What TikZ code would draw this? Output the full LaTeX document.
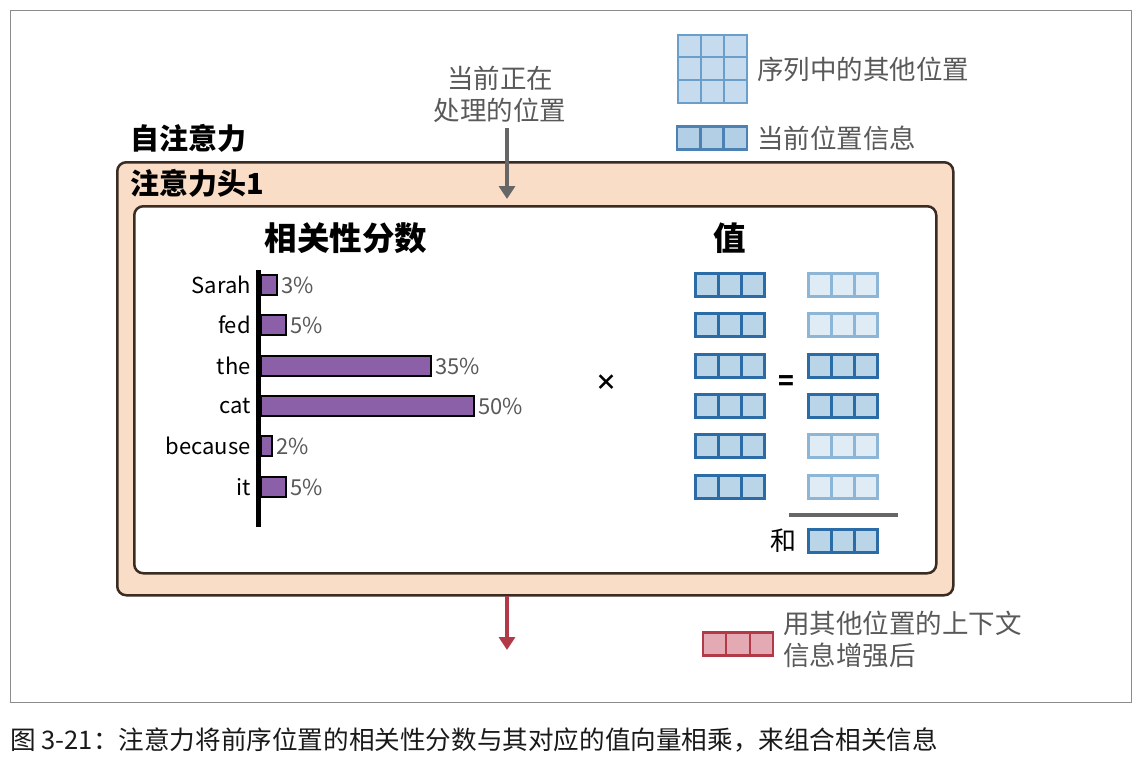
\documentclass[tikz,border=0pt]{standalone}
\usepackage{fontspec}
\setmainfont{Noto Sans CJK SC}
\usetikzlibrary{arrows.meta}
\definecolor{peach}{HTML}{F9DDC6}
\definecolor{peachline}{HTML}{3B2B22}
\definecolor{barfill}{HTML}{8B60A8}
\definecolor{dblue}{HTML}{2B6CA6}
\definecolor{lblue}{HTML}{BAD4E8}
\definecolor{fblue}{HTML}{8CB5D6}
\definecolor{ffill}{HTML}{DFEBF5}
\definecolor{gblue}{HTML}{6A9FCC}
\definecolor{gfill}{HTML}{C6DBED}
\definecolor{rline}{HTML}{B23A48}
\definecolor{rfill}{HTML}{E3AAB3}
\definecolor{txtgray}{HTML}{595959}
\definecolor{arrgray}{HTML}{666666}
\newcommand\fs[1]{\fontsize{#1}{#1}\selectfont}
% vector of three cells: name, x center, y center, style
\newcommand\threecell[4]{%
  \node[cellbox,#4,anchor=center] (#1a) at (#2-23.3,#3) {};
  \node[cellbox,#4,anchor=center] (#1b) at (#2,#3) {};
  \node[cellbox,#4,anchor=center] (#1c) at (#2+23.3,#3) {};
}
\begin{document}
\begin{tikzpicture}[x=1pt,y=-1pt,
  cellbox/.style={rectangle,minimum width=23.3pt,minimum height=23pt,inner sep=0pt},
  darkv/.style={draw=dblue,fill=lblue,line width=3pt},
  fadev/.style={draw=fblue,fill=ffill,line width=3pt},
  gridv/.style={draw=gblue,fill=gfill,line width=2pt},
  redv/.style={draw=rline,fill=rfill,line width=2.2pt},
  bar/.style={draw=black,fill=barfill,line width=2pt,minimum height=20pt,inner sep=0pt,anchor=west},
  word/.style={anchor=east,inner sep=0pt,font=\fs{22}},
  pct/.style={anchor=west,inner sep=0pt,text=txtgray,font=\fs{22}},
  label/.style={inner sep=0pt,text=txtgray,font=\fs{26.5}},
  title/.style={inner sep=0pt,font=\fs{29}\bfseries},
]
\useasboundingbox (0,0) rectangle (1141,766);
% outer frame
\node[draw=black!45,line width=1pt,minimum width=1121pt,minimum height=692pt,inner sep=0pt,anchor=north west] (frame) at (10,10) {};
% caption
\node[anchor=west,inner sep=0pt,font=\fs{25.6},text=black!90] (cap) at (10,740) {图 3-21：注意力将前序位置的相关性分数与其对应的值向量相乘，来组合相关信息};
% self attention title
\node[title,anchor=west] (sa) at (130,138) {自注意力};
% peach box
\node[draw=peachline,fill=peach,line width=2.5pt,rounded corners=9pt,minimum width=836pt,minimum height=433pt,inner sep=0pt,anchor=north west] (head) at (116,161) {};
\node[title,anchor=west] (headt) at (130,183) {注意力头1};
% white box
\node[draw=peachline,fill=white,line width=2.5pt,rounded corners=9pt,minimum width=802pt,minimum height=367pt,inner sep=0pt,anchor=north west] (inner) at (133,205) {};
\node[title,font=\fs{32.5}\bfseries] (rs) at (346,238) {相关性分数};
\node[title,font=\fs{32.5}\bfseries] (val) at (730,238) {值};
% top arrow and label
\node[label,align=center,font=\fs{26.5}\linespread{1.2}\selectfont] (cur) at (500,94) {当前正在\\处理的位置};
\coordinate (a1) at (507,128);
\coordinate (a2) at (507,199);
\draw[arrgray,line width=4pt,-{Triangle[length=13pt,width=16pt]}] (a1) -- (a2);
% legend
\foreach \r in {0,1,2}{\foreach \c in {0,1,2}{
  \node[cellbox,gridv,anchor=north west,minimum width=23pt,minimum height=22.7pt] (g\r\c) at (677+\c*23,33.5+\r*22.7) {};
}}
\node[label,anchor=west] (lg1) at (757,69) {序列中的其他位置};
\threecell{lc}{712}{138}{darkv,draw=dblue!85,fill=lblue!95!dblue,line width=2.4pt}
\node[label,anchor=west] (lg2) at (757,138) {当前位置信息};
% bar chart axis
\coordinate (ax1) at (258,270);
\coordinate (ax2) at (258,527);
\draw[line width=5pt] (ax1) -- (ax2);
% bars
\foreach \nm/\w/\p/\y [count=\i] in {Sarah/16/3/285,fed/25/5/325,the/170/35/366,cat/213/50/406,because/11/2/446,it/25/5/487}{
  \node[word] (w\i) at (251,\y) {\nm};
  \node[bar,minimum width=\w pt] (b\i) at (260,\y) {};
  \node[pct] (p\i) at ([xshift=3pt]b\i.east) {\p\%};
}
% multiply and equals
\node[inner sep=0pt,font=\fs{22}\bfseries] (times) at (606,383) {×};
\node[inner sep=0pt,font=\fs{26}\bfseries] (eq) at (786,383) {=};
% value vectors
\foreach \y [count=\i] in {285,325,366,406,446,487}{
  \threecell{v\i}{730}{\y}{darkv}
}
\threecell{r1}{843}{285}{fadev}
\threecell{r2}{843}{325}{fadev}
\threecell{r3}{843}{366}{darkv}
\threecell{r4}{843}{406}{darkv}
\threecell{r5}{843}{446}{fadev}
\threecell{r6}{843}{487}{fadev}
% sum line
\coordinate (s1) at (789,515);
\coordinate (s2) at (898,515);
\draw[arrgray,line width=4pt] (s1) -- (s2);
\node[inner sep=0pt,font=\fs{26}] (he) at (783,541) {和};
\threecell{sum}{843}{541}{darkv}
% output arrow
\coordinate (o1) at (507,596);
\coordinate (o2) at (507,650);
\draw[rline,line width=3.5pt,-{Triangle[length=13pt,width=16pt]}] (o1) -- (o2);
\threecell{out}{738}{644}{redv}
\node[label,anchor=north west,align=left,font=\fs{26.5}\linespread{1.2}\selectfont] (outl) at (783,611) {用其他位置的上下文\\信息增强后};
\end{tikzpicture}
\end{document}
